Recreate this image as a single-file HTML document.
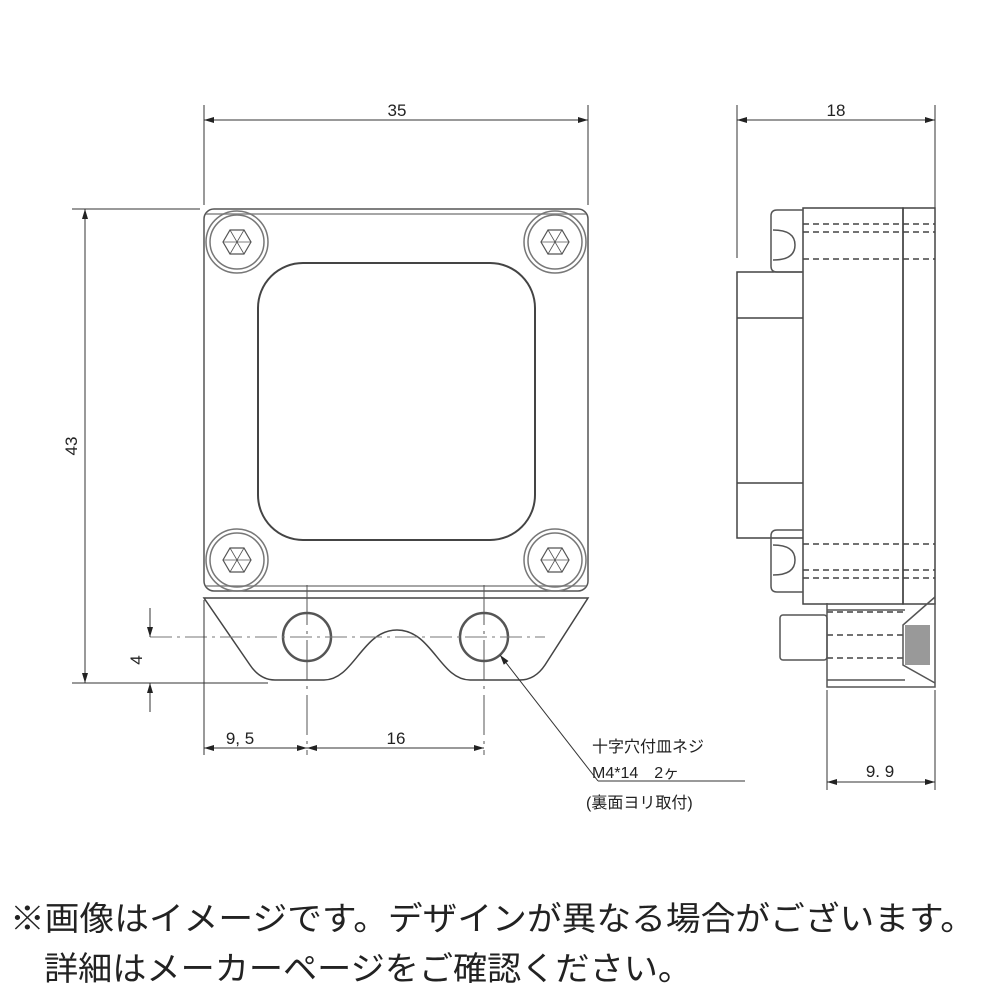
<!DOCTYPE html>
<html><head><meta charset="utf-8"><style>
html,body{margin:0;padding:0;background:#fff;width:1000px;height:1000px;overflow:hidden}
svg{position:absolute;left:0;top:0}
.t{font-family:"Liberation Sans","Noto Sans CJK JP",sans-serif;fill:#222}
</style></head><body>
<svg width="1000" height="1000" viewBox="0 0 1000 1000">
<defs>
<marker id="a" viewBox="0 0 10 6" refX="10" refY="3" markerWidth="14" markerHeight="6" orient="auto-start-reverse" markerUnits="userSpaceOnUse"><path d="M0,0L10,3L0,6z" fill="#222"/></marker>
<g id="scr"><circle r="31" fill="none" stroke="#777" stroke-width="1.5"/><circle r="27" fill="none" stroke="#777" stroke-width="1.5"/>
<polygon points="14,0 7,12 -7,12 -14,0 -7,-12 7,-12" fill="none" stroke="#555" stroke-width="1.2"/>
<path d="M-14,0H14M-7,-12L7,12M7,-12L-7,12" stroke="#555" stroke-width="0.8"/></g>
</defs>
<g stroke="#333" stroke-width="1.5" fill="none">
<rect x="204" y="209" width="384" height="382" rx="10" stroke="#555"/>
<line x1="206" y1="214" x2="586" y2="214" stroke="#888"/>
<line x1="206" y1="586" x2="586" y2="586" stroke="#888"/>
<rect x="258" y="263" width="277" height="277" rx="45" stroke="#444" stroke-width="2"/>
<path d="M204,598H588L545,665Q535,680 520,680H470C440,680 432,630 397,630C362,630 354,680 324,680H275Q260,680 250,665Z" stroke="#444"/>
<circle cx="307" cy="637" r="24" stroke="#555" stroke-width="2.5"/>
<circle cx="484" cy="637" r="24" stroke="#555" stroke-width="2.5"/>
<line x1="150" y1="637" x2="545" y2="637" stroke="#777" stroke-dasharray="22,5,3,5" stroke-width="1"/>
<line x1="307" y1="585" x2="307" y2="755" stroke="#555" stroke-dasharray="40,6,3,6" stroke-width="1"/>
<line x1="484" y1="585" x2="484" y2="755" stroke="#555" stroke-dasharray="40,6,3,6" stroke-width="1"/>
<path d="M204,105V205M588,105V205" stroke-width="1"/>
<line x1="204" y1="120" x2="588" y2="120" stroke-width="1" marker-start="url(#a)" marker-end="url(#a)"/>
<path d="M72,209H200M72,683H268" stroke-width="1"/>
<line x1="85" y1="209" x2="85" y2="683" stroke-width="1" marker-start="url(#a)" marker-end="url(#a)"/>
<line x1="150" y1="608" x2="150" y2="637" stroke-width="1" marker-end="url(#a)"/>
<line x1="150" y1="712" x2="150" y2="683" stroke-width="1" marker-end="url(#a)"/>
<path d="M204,600V755" stroke-width="1"/>
<line x1="204" y1="748" x2="307" y2="748" stroke-width="1" marker-start="url(#a)" marker-end="url(#a)"/>
<line x1="307" y1="748" x2="484" y2="748" stroke-width="1" marker-start="url(#a)" marker-end="url(#a)"/>
<line x1="598" y1="781" x2="500" y2="655" stroke-width="1" marker-end="url(#a)"/>
<line x1="598" y1="781" x2="745" y2="781" stroke-width="1"/>
<path d="M737,105V258M935,105V215" stroke-width="1"/>
<line x1="737" y1="120" x2="935" y2="120" stroke-width="1" marker-start="url(#a)" marker-end="url(#a)"/>
<rect x="803" y="208" width="100" height="396" stroke="#444"/>
<rect x="903" y="208" width="32" height="396" stroke="#444"/>
<path d="M803,272H737V538H803M737,318H803M737,483H803" stroke="#444"/>
<path d="M803,210H777Q771,210 771,216V266Q771,272 777,272H803" stroke="#555"/>
<path d="M803,530H777Q771,530 771,536V586Q771,592 777,592H803" stroke="#555"/>
<path d="M773,230Q795,230 795,245Q795,260 773,260" stroke="#555"/>
<path d="M773,545Q795,545 795,560Q795,575 773,575" stroke="#555"/>
<g stroke-dasharray="6,4" stroke="#444">
<path d="M803,224H935M803,232H935M803,259H935M803,544H935M803,570H935M803,578H935M827,612H905M827,635H905M827,658H905"/>
</g>
<path d="M827,603V687H935V603M827,610H905M827,680H905" stroke="#555"/>
<path d="M935,597L903,625V665L935,683" stroke="#555"/>
<rect x="780" y="615" width="47" height="45" rx="3" stroke="#555"/>
<rect x="905" y="625" width="25" height="40" fill="#555" stroke="none" opacity="0.6"/>
<path d="M827,690V790M935,690V790" stroke-width="1"/>
<line x1="827" y1="782" x2="935" y2="782" stroke-width="1" marker-start="url(#a)" marker-end="url(#a)"/>
</g>
<use href="#scr" x="237" y="242"/>
<use href="#scr" x="555" y="242"/>
<use href="#scr" x="237" y="560"/>
<use href="#scr" x="555" y="560"/>
<g class="t" font-size="17">
<text x="397" y="116" text-anchor="middle">35</text>
<text x="836" y="116" text-anchor="middle">18</text>
<text transform="translate(77,446) rotate(-90)" text-anchor="middle">43</text>
<text transform="translate(142,660) rotate(-90)" text-anchor="middle">4</text>
<text x="240" y="744" text-anchor="middle">9, 5</text>
<text x="396" y="744" text-anchor="middle">16</text>
<text x="880" y="777" text-anchor="middle">9. 9</text>
<text x="592" y="752" font-size="16">十字穴付皿ネジ</text>
<text x="592" y="778" font-size="16">M4*14　2ヶ</text>
<text x="586" y="808" font-size="16">(裏面ヨリ取付)</text>
</g>
<g class="t" font-size="33" fill="#111">
<text x="10" y="930" textLength="965" lengthAdjust="spacingAndGlyphs">※画像はイメージです。デザインが異なる場合がございます。</text>
<text x="44" y="980" textLength="648" lengthAdjust="spacingAndGlyphs">詳細はメーカーページをご確認ください。</text>
</g>
</svg>
</body></html>
